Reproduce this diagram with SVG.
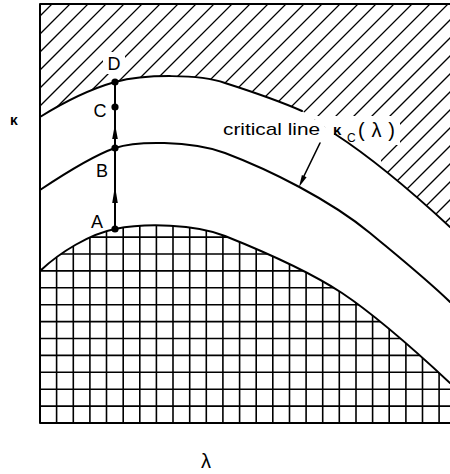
<svg xmlns="http://www.w3.org/2000/svg" width="450" height="474" viewBox="0 0 450 474">
<style>
.ln{fill:none;stroke:#000;stroke-width:2;stroke-linecap:round;stroke-linejoin:round}
.hat{fill:none;stroke:#000;stroke-width:1.3}
.grd{fill:none;stroke:#000;stroke-width:1.6}
.dot{fill:#000}
.t{font-family:"Liberation Sans",Arial,sans-serif;fill:#000}
.lbl{font-size:18px;text-anchor:middle}
</style>
<defs>
<clipPath id="hatchClip"><path d="M40,4 L40,117 Q80,92 115,82 C145,74 200,74 225,83 C250,91 275,99 302,111 C312,117 324,126 335,134 C375,160 410,190 450,227 L450,4 Z"/></clipPath>
<clipPath id="gridClip"><path d="M40,271 C60,252 90,234 115,229 C145,223 195,224 225,236 C260,250 310,272 342,293 C375,315 420,355 450,383 L450,423 L40,423 Z"/></clipPath>
</defs>
<rect width="450" height="474" fill="#fff"/>
<g id="region-hatched" clip-path="url(#hatchClip)">
<path class="hat" d="M56,0 l-500,500 M74,0 l-500,500 M92,0 l-500,500 M110,0 l-500,500 M128,0 l-500,500 M146,0 l-500,500 M164,0 l-500,500 M182,0 l-500,500 M200,0 l-500,500 M218,0 l-500,500 M236,0 l-500,500 M254,0 l-500,500 M272,0 l-500,500 M290,0 l-500,500 M308,0 l-500,500 M326,0 l-500,500 M344,0 l-500,500 M362,0 l-500,500 M380,0 l-500,500 M398,0 l-500,500 M416,0 l-500,500 M434,0 l-500,500 M452,0 l-500,500 M470,0 l-500,500 M488,0 l-500,500 M506,0 l-500,500 M524,0 l-500,500 M542,0 l-500,500 M560,0 l-500,500 M578,0 l-500,500 M596,0 l-500,500 M614,0 l-500,500 M632,0 l-500,500 M650,0 l-500,500 M668,0 l-500,500 M686,0 l-500,500"/>
<rect x="305" y="116" width="76" height="56" fill="#fff"/>
<rect x="380" y="116" width="20" height="29" fill="#fff"/>
<rect x="103" y="52" width="22" height="22" fill="#fff"/>
</g>
<g id="region-grid" clip-path="url(#gridClip)">
<path class="grd" d="M56.6,200 V423 M73.3,200 V423 M89.9,200 V423 M106.5,200 V423 M123.2,200 V423 M139.8,200 V423 M156.4,200 V423 M173,200 V423 M189.7,200 V423 M206.3,200 V423 M222.9,200 V423 M239.6,200 V423 M256.2,200 V423 M272.8,200 V423 M289.5,200 V423 M306.1,200 V423 M322.7,200 V423 M339.3,200 V423 M356,200 V423 M372.6,200 V423 M389.2,200 V423 M405.9,200 V423 M422.5,200 V423 M439.1,200 V423"/>
<path class="grd" d="M40,406.1 H450 M40,389.2 H450 M40,372.3 H450 M40,355.4 H450 M40,338.5 H450 M40,321.6 H450 M40,304.7 H450 M40,287.8 H450 M40,270.9 H450 M40,254 H450 M40,237.1 H450 M40,220.2 H450"/>
</g>
<g id="frame">
<path class="ln" d="M450,4 H40 V423 H450"/>
</g>
<g id="curve-upper">
<path class="ln" d="M40,117 Q80,92 115,82 C145,74 200,74 225,83 C250,91 275,99 302,111"/>
<path class="ln" d="M335,134 C375,160 410,190 450,227"/>
</g>
<g id="curve-critical">
<path class="ln" d="M40,190 C70,170 95,155 115,148 C135,141 190,140 225,153 C270,170 330,200 370,233 C400,258 425,278 450,302"/>
</g>
<g id="curve-lower">
<path class="ln" d="M40,271 C60,252 90,234 115,229 C145,223 195,224 225,236 C260,250 310,272 342,293 C375,315 420,355 450,383"/>
</g>
<g id="connectors">
<path class="ln" d="M115,229 V82"/>
<polygon class="dot" points="115,186 112.2,203 117.8,203"/>
<polygon class="dot" points="115,124 112.2,139 117.8,139"/>
<path class="ln" d="M320,143 L303,178" style="stroke-width:1.6"/>
<polygon class="dot" points="299,187 306.6,177.3 301.9,175.1"/>
</g>
<g id="node-A"><circle class="dot" cx="115" cy="229" r="3.6"/><text class="t lbl" x="97" y="228">A</text></g>
<g id="node-B"><circle class="dot" cx="115" cy="148" r="3.6"/><text class="t lbl" x="102" y="177">B</text></g>
<g id="node-C"><circle class="dot" cx="115" cy="107" r="3.6"/><text class="t lbl" x="100" y="117">C</text></g>
<g id="node-D"><circle class="dot" cx="115" cy="82" r="3.6"/><text class="t lbl" x="114" y="70">D</text></g>
<g id="label-critical">
<text class="t" x="223" y="135" font-size="17" textLength="97" lengthAdjust="spacingAndGlyphs">critical line</text>
<text class="t" x="333" y="135" font-size="15" font-weight="bold">κ</text>
<text class="t" x="347" y="142" font-size="12">C</text>
<text class="t" x="358" y="137" font-size="20" textLength="37" lengthAdjust="spacing">(λ)</text>
</g>
<g id="axis-labels">
<text class="t" x="14" y="125" font-size="14" font-weight="bold" text-anchor="middle">κ</text>
<text class="t" x="206" y="468" font-size="20" text-anchor="middle">λ</text>
</g>
</svg>
